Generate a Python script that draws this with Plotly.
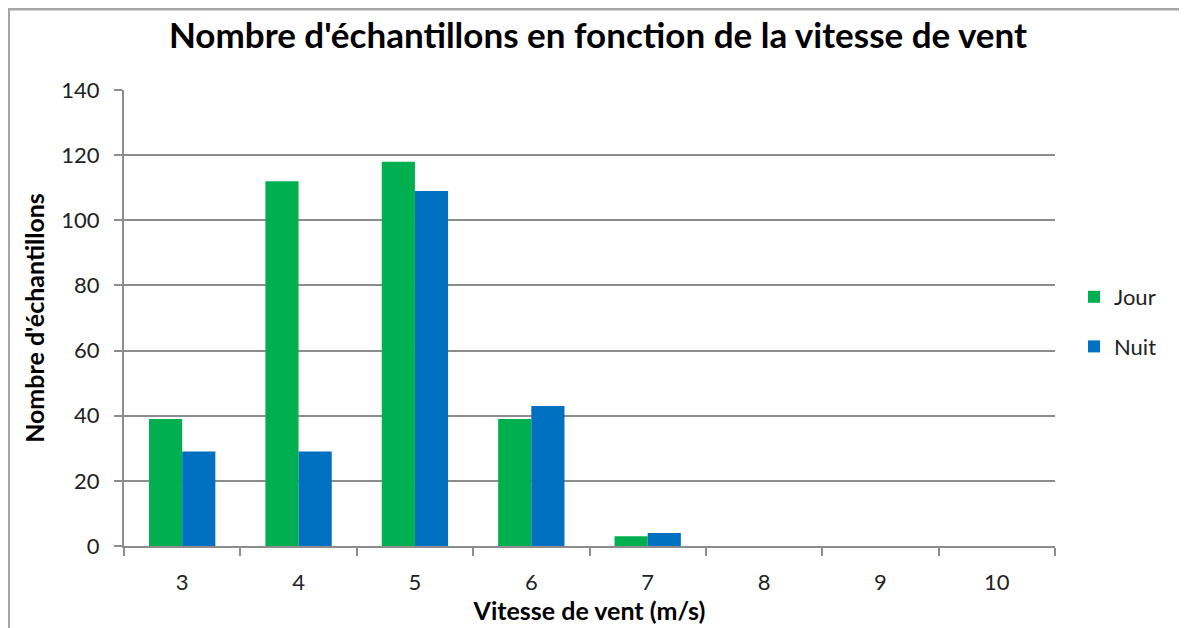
import plotly.graph_objects as go

categories = ["3", "4", "5", "6", "7", "8", "9", "10"]
jour = [39, 112, 118, 39, 3, 0, 0, 0]
nuit = [29, 29, 109, 43, 4, 0, 0, 0]
y_ticks = [0, 20, 40, 60, 80, 100, 120, 140]

# page body has an 8px margin: figure coords = screen coords - 8
W, H = 1179, 620
L, R, T, B = 116, 132, 82, 82
pw, ph = W - L - R, H - T - B

font_title = "Lato, Open Sans, sans-serif"
font_ticks = "Lato, Open Sans, sans-serif"

fig = go.Figure()
fig.add_trace(go.Bar(x=categories, y=jour, name="Jour", marker_color="#00B050",
                     marker_line_width=0, legendgroup="j"))
fig.add_trace(go.Bar(x=categories, y=nuit, name="Nuit", marker_color="#0070C0",
                     marker_line_width=0, legendgroup="n"))

fig.update_layout(
    width=W, height=H,
    margin=dict(l=L, r=R, t=T, b=B, autoexpand=False),
    paper_bgcolor="white", plot_bgcolor="white",
    barmode="group", bargap=0.43, bargroupgap=0,
    title=dict(text="<b>Nombre d'échantillons en fonction de la vitesse de vent</b>",
               x=590 / W, xanchor="center", y=1 - 28 / H, yanchor="middle",
               font=dict(family=font_title, size=35, color="black")),
    legend=dict(x=(1066 - L) / pw, xanchor="left", y=1 - (268 - T) / ph, yanchor="top",
                font=dict(family=font_ticks, size=22, color="#222"),
                tracegroupgap=18, bgcolor="rgba(0,0,0,0)", itemwidth=30),
    xaxis=dict(
        type="category", showgrid=False, showline=True, linecolor="#8c8c8c", linewidth=2,
        ticks="outside", tickson="boundaries", ticklen=8, tickwidth=2, tickcolor="#8c8c8c",
        ticklabelstandoff=16, automargin=False,
        tickfont=dict(family=font_ticks, size=22, color="#222"),
        title=dict(text="<b>Vitesse de vent (m/s)</b>", standoff=8,
                   font=dict(family=font_title, size=25, color="black")),
    ),
    yaxis=dict(
        range=[0, 140], tickvals=y_ticks, showgrid=True, gridcolor="#8c8c8c", gridwidth=1.5,
        showline=True, linecolor="#8c8c8c", linewidth=2, zeroline=False,
        ticks="outside", ticklen=8, tickwidth=2, tickcolor="#8c8c8c",
        ticklabelstandoff=10, automargin=False,
        tickfont=dict(family=font_ticks, size=22, color="#222"),
        title=dict(text="<b>Nombre d'échantillons</b>", standoff=10,
                   font=dict(family=font_title, size=25, color="black")),
    ),
)

# outer frame (top and left edges of the chart area)
fig.add_shape(type="line", xref="paper", yref="paper",
              x0=(0 - L) / pw, x1=(W - L) / pw, y0=1 + (T - 1) / ph, y1=1 + (T - 1) / ph,
              line=dict(color="#a6a6a6", width=3))
fig.add_shape(type="line", xref="paper", yref="paper",
              x0=(1 - L) / pw, x1=(1 - L) / pw, y0=1 + (T - 1) / ph, y1=-B / ph,
              line=dict(color="#a6a6a6", width=2))

fig.write_html("out.html")
